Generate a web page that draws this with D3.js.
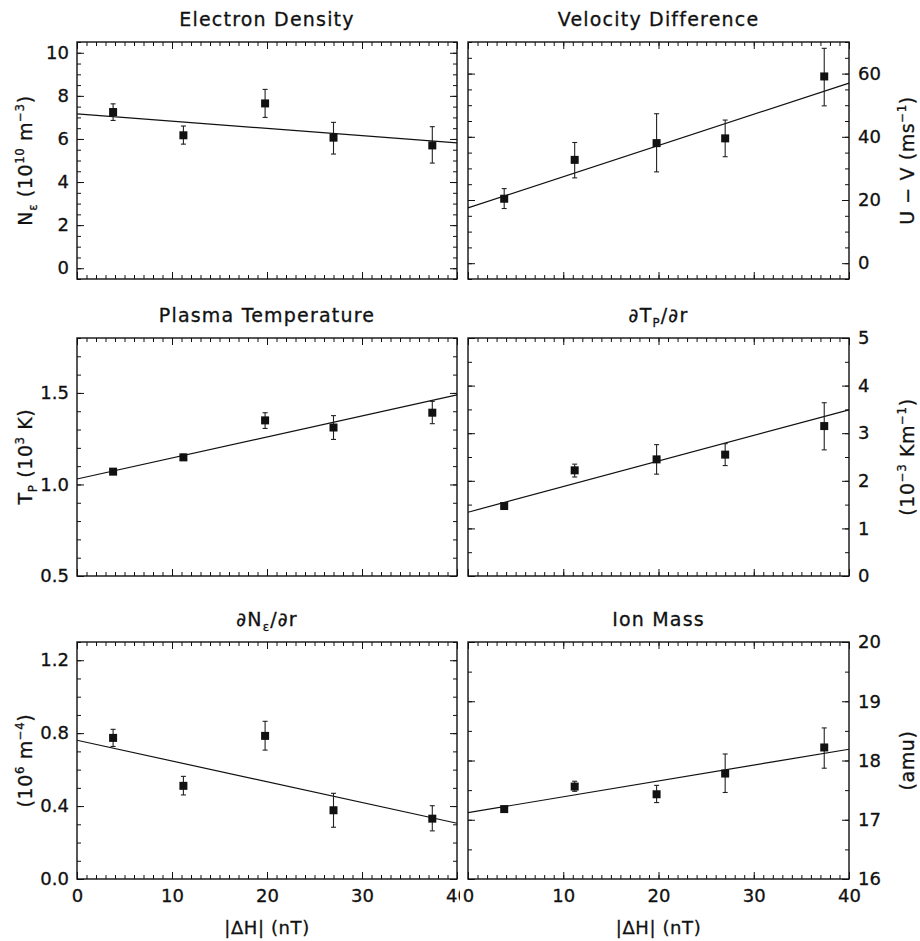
<!DOCTYPE html>
<html>
<head>
<meta charset="utf-8">
<script src="https://cdn.jsdelivr.net/npm/d3@7"></script>
<style>
  body { margin: 0; background: #fff; }
  text { font-family: "DejaVu Sans", sans-serif; fill: #111; stroke: #111; stroke-width: 0.3; }
</style>
</head>
<body>
<div id="wrapper"></div>
<script>
// |ΔH| bins (nT), shared by all six panels
const dH = [3.8, 11.2, 19.8, 27.0, 37.4]
const xTickValues = [0, 10, 20, 30, 40]

const densityMean = [7.25, 6.17, 7.65, 6.06, 5.70]
const densityLow = [6.86, 5.76, 7.00, 5.30, 4.88]
const densityHigh = [7.63, 6.60, 8.30, 6.77, 6.57]
const densityFit = [7.16, 5.82]
const densityTicks = [0, 2, 4, 6, 8, 10]

const velocityMean = [20.4, 32.7, 38.0, 39.5, 59.1]
const velocityLow = [17.3, 27.0, 28.9, 33.7, 49.8]
const velocityHigh = [23.6, 38.2, 47.3, 45.3, 68.0]
const velocityFit = [17.5, 57.0]
const velocityTicks = [0, 20, 40, 60]

const tempMean = [1.070, 1.148, 1.350, 1.311, 1.392]
const tempLow = [1.060, 1.132, 1.306, 1.246, 1.332]
const tempHigh = [1.080, 1.165, 1.392, 1.376, 1.454]
const tempFit = [1.03, 1.489]
const tempTicks = [0.5, 1.0, 1.5]

const dTdrMean = [1.47, 2.22, 2.45, 2.55, 3.15]
const dTdrLow = [1.42, 2.08, 2.14, 2.32, 2.65]
const dTdrHigh = [1.52, 2.35, 2.76, 2.78, 3.64]
const dTdrFit = [1.34, 3.49]
const dTdrTicks = [0, 1, 2, 3, 4, 5]

const dNdrMean = [0.774, 0.511, 0.785, 0.377, 0.331]
const dNdrLow = [0.727, 0.461, 0.707, 0.284, 0.264]
const dNdrHigh = [0.821, 0.563, 0.865, 0.470, 0.402]
const dNdrFit = [0.761, 0.306]
const dNdrTicks = [0.0, 0.4, 0.8, 1.2]

const massMean = [17.18, 17.56, 17.43, 17.78, 18.22]
const massLow = [17.15, 17.48, 17.29, 17.46, 17.87]
const massHigh = [17.21, 17.65, 17.58, 18.11, 18.55]
const massFit = [17.12, 18.19]
const massTicks = [16, 17, 18, 19, 20]

const width = 920
const height = 941
const cols = [[77, 457], [468, 849]]
const rows = [[42, 279], [338, 576], [642, 879]]
const fontSize = 18
const labelSize = 19

const panels = [
  { col: 0, row: 0, title: [{t: "Electron Density"}],
    domain: [-0.5, 10.5], ticks: densityTicks, minor: 0.5, fmt: "d",
    mean: densityMean, low: densityLow, high: densityHigh, fit: densityFit,
    label: [{t: "N"}, {t: "ε", sub: true}, {t: " (10"}, {t: "10", sup: true}, {t: " m"}, {t: "−3", sup: true}, {t: ")"}] },
  { col: 1, row: 0, title: [{t: "Velocity Difference"}],
    domain: [-5, 70], ticks: velocityTicks, minor: 5, fmt: "d",
    mean: velocityMean, low: velocityLow, high: velocityHigh, fit: velocityFit,
    label: [{t: "U − V (ms"}, {t: "−1", sup: true}, {t: ")"}] },
  { col: 0, row: 1, title: [{t: "Plasma Temperature"}],
    domain: [0.5, 1.8], ticks: tempTicks, minor: 0.1, fmt: ".1f",
    mean: tempMean, low: tempLow, high: tempHigh, fit: tempFit,
    label: [{t: "T"}, {t: "P", sub: true}, {t: " (10"}, {t: "3", sup: true}, {t: " K)"}] },
  { col: 1, row: 1, title: [{t: "∂T"}, {t: "P", sub: true}, {t: "/∂r"}],
    domain: [0, 5], ticks: dTdrTicks, minor: 0.5, fmt: "d",
    mean: dTdrMean, low: dTdrLow, high: dTdrHigh, fit: dTdrFit,
    label: [{t: "(10"}, {t: "−3", sup: true}, {t: " Km"}, {t: "−1", sup: true}, {t: ")"}] },
  { col: 0, row: 2, title: [{t: "∂N"}, {t: "ε", sub: true}, {t: "/∂r"}],
    domain: [0, 1.3], ticks: dNdrTicks, minor: 0.1, fmt: ".1f",
    mean: dNdrMean, low: dNdrLow, high: dNdrHigh, fit: dNdrFit,
    label: [{t: "(10"}, {t: "6", sup: true}, {t: " m"}, {t: "−4", sup: true}, {t: ")"}] },
  { col: 1, row: 2, title: [{t: "Ion Mass"}],
    domain: [16, 20], ticks: massTicks, minor: 0.5, fmt: "d",
    mean: massMean, low: massLow, high: massHigh, fit: massFit,
    label: [{t: "(amu)"}] }
]

const svg = d3.select("#wrapper")
  .append("svg")
    .attr("width", width)
    .attr("height", height)

// each column is clipped at the seam, like the pasted-together original
const defs = svg.append("defs")
defs.append("clipPath").attr("id", "clip0")
  .append("rect").attr("x", 0).attr("y", 0).attr("width", 460).attr("height", height)
defs.append("clipPath").attr("id", "clip1")
  .append("rect").attr("x", 460).attr("y", 0).attr("width", width - 460).attr("height", height)

function rich(textSel, parts, size) {
  let cur = 0
  parts.forEach(p => {
    const off = p.sup ? -0.42 * size : p.sub ? 0.28 * size : 0
    textSel.append("tspan")
      .attr("dy", off - cur)
      .attr("font-size", (p.sup || p.sub) ? size * 0.62 : size)
      .text(p.t)
    cur = off
  })
}

function minorValues(domain, step) {
  const n = Math.round((domain[1] - domain[0]) / step)
  return d3.range(n + 1).map(i => +(domain[0] + i * step).toFixed(6))
}

function styleAxis(g) {
  g.select(".domain").remove()
  g.attr("font-size", fontSize).attr("font-family", "DejaVu Sans, sans-serif")
  g.selectAll(".tick line").attr("stroke", "#111")
  g.selectAll(".tick text").attr("fill", "#111")
}

panels.forEach(p => {
  const [x0, x1] = cols[p.col]
  const [y0, y1] = rows[p.row]
  const g = svg.append("g").attr("clip-path", `url(#clip${p.col})`)

  const xScale = d3.scaleLinear().domain([0, 40]).range([x0, x1])
  const yScale = d3.scaleLinear().domain(p.domain).range([y1, y0])
  const yFmt = d3.format(p.fmt)

  // x axes (bottom + top), ticks inward
  const xMinor = minorValues([0, 40], 1)
  g.append("g").attr("transform", `translate(0,${y1})`)
    .call(d3.axisBottom(xScale).tickValues(xMinor).tickSize(-4).tickFormat(""))
    .call(styleAxis)
  g.append("g").attr("transform", `translate(0,${y1})`)
    .call(d3.axisBottom(xScale).tickValues(xTickValues).tickSize(-7).tickPadding(10)
      .tickFormat(p.row === 2 ? d3.format("d") : ""))
    .call(styleAxis)
  g.append("g").attr("transform", `translate(0,${y0})`)
    .call(d3.axisTop(xScale).tickValues(xMinor).tickSize(-4).tickFormat(""))
    .call(styleAxis)
  g.append("g").attr("transform", `translate(0,${y0})`)
    .call(d3.axisTop(xScale).tickValues(xTickValues).tickSize(-7).tickFormat(""))
    .call(styleAxis)

  // y axes, labelled on the outer side
  const yMinor = minorValues(p.domain, p.minor)
  const labelLeft = p.col === 0
  g.append("g").attr("transform", `translate(${x0},0)`)
    .call(d3.axisLeft(yScale).tickValues(yMinor).tickSize(-4).tickFormat(""))
    .call(styleAxis)
  g.append("g").attr("transform", `translate(${x0},0)`)
    .call(d3.axisLeft(yScale).tickValues(p.ticks).tickSize(-7).tickPadding(8)
      .tickFormat(labelLeft ? yFmt : ""))
    .call(styleAxis)
  g.append("g").attr("transform", `translate(${x1},0)`)
    .call(d3.axisRight(yScale).tickValues(yMinor).tickSize(-4).tickFormat(""))
    .call(styleAxis)
  g.append("g").attr("transform", `translate(${x1},0)`)
    .call(d3.axisRight(yScale).tickValues(p.ticks).tickSize(-7).tickPadding(9)
      .tickFormat(labelLeft ? "" : yFmt))
    .call(styleAxis)

  // frame
  g.append("rect")
    .attr("x", x0).attr("y", y0)
    .attr("width", x1 - x0).attr("height", y1 - y0)
    .attr("fill", "none").attr("stroke", "#111").attr("stroke-width", 1.4)

  // fit line
  const lineGenerator = d3.line()
    .x(d => xScale(d[0]))
    .y(d => yScale(d[1]))
  g.append("path")
    .attr("d", lineGenerator([[0, p.fit[0]], [40, p.fit[1]]]))
    .attr("fill", "none")
    .attr("stroke", "#111")
    .attr("stroke-width", 1.2)

  // error bars
  const pts = dH.map((x, i) => ({x, m: p.mean[i], lo: p.low[i], hi: p.high[i]}))
  const bars = g.append("g").attr("stroke", "#222").attr("stroke-width", 1.1)
  bars.selectAll(".err").data(pts).join("line")
    .attr("x1", d => xScale(d.x)).attr("x2", d => xScale(d.x))
    .attr("y1", d => yScale(d.lo)).attr("y2", d => yScale(d.hi))
  bars.selectAll(".capHi").data(pts).join("line")
    .attr("x1", d => xScale(d.x) - 2.5).attr("x2", d => xScale(d.x) + 2.5)
    .attr("y1", d => yScale(d.hi)).attr("y2", d => yScale(d.hi))
  bars.selectAll(".capLo").data(pts).join("line")
    .attr("x1", d => xScale(d.x) - 2.5).attr("x2", d => xScale(d.x) + 2.5)
    .attr("y1", d => yScale(d.lo)).attr("y2", d => yScale(d.lo))

  // markers
  g.selectAll(".pt").data(pts).join("rect")
    .attr("x", d => xScale(d.x) - 4)
    .attr("y", d => yScale(d.m) - 4)
    .attr("width", 8).attr("height", 8)
    .attr("fill", "#111")

  // title
  const title = g.append("text")
    .attr("x", (x0 + x1) / 2)
    .attr("y", y0 - 16)
    .attr("text-anchor", "middle")
    .attr("letter-spacing", 1.2)
  rich(title, p.title, 19)

  // y-axis label, centred on the panel by its measured box
  const lx = labelLeft ? 32 : 914
  const ylab = g.append("text")
    .attr("transform", `translate(${lx},${(y0 + y1) / 2}) rotate(-90)`)
    .attr("letter-spacing", 0.6)
  rich(ylab, p.label, labelSize)
  const box = ylab.node().getBBox()
  ylab.attr("x", -box.x - box.width / 2)

  // x-axis label on the bottom row
  if (p.row === 2) {
    g.append("text")
      .attr("x", (x0 + x1) / 2)
      .attr("y", y1 + 55)
      .attr("text-anchor", "middle")
      .attr("font-size", fontSize)
      .attr("letter-spacing", 0.6)
      .text("|ΔH| (nT)")
  }
})
</script>
</body>
</html>
